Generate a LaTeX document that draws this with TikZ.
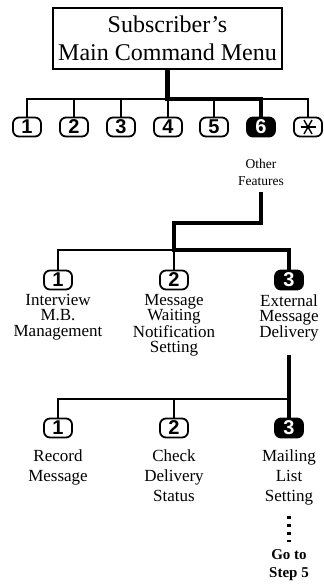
\documentclass[tikz,border=0pt]{standalone}
\usepackage{fontspec}
\setmainfont{Liberation Serif}
\newfontfamily\keyfont{Liberation Sans}
\begin{document}
\begin{tikzpicture}[x=1pt,y=-1pt,
  keybox/.style={draw,line width=1.8pt,rounded corners=6pt,minimum width=28pt,minimum height=19pt,inner sep=0pt,font=\keyfont\bfseries\fontsize{20}{20}\selectfont},
  keyon/.style={keybox,fill=black,text=white},
  lbl/.style={anchor=north,align=center,inner sep=0pt,font=\fontsize{17}{15.5}\selectfont},
  lblb/.style={anchor=north,align=center,inner sep=0pt,font=\fontsize{17}{20}\selectfont},
  thinln/.style={line width=1.4pt},
  thickln/.style={line width=4.2pt},
]
\useasboundingbox (0,0) rectangle (324,587);
% main menu
\node[draw,line width=2pt,minimum width=229pt,minimum height=61pt,align=center,inner sep=0pt,
  font=\fontsize{24}{28}\selectfont] (menu) at (167.5,38.5) {Subscriber's\\Main Command Menu};
% first row of keys
\node[keybox] (k1) at (27,127) {1};
\node[keybox] (k2) at (74,127) {2};
\node[keybox] (k3) at (121,127) {3};
\node[keybox] (k4) at (168,127) {4};
\node[keybox] (k5) at (214,127) {5};
\node[keyon]  (k6) at (261,127) {6};
\node[keybox] (ks) at (308,127) {};
\draw[line width=1.4pt] ([xshift=-7.5pt]ks.center) -- ([xshift=7.5pt]ks.center);
\draw[line width=1.4pt] ([shift={(60:8pt)}]ks.center) -- ([shift={(240:8pt)}]ks.center);
\draw[line width=1.4pt] ([shift={(120:8pt)}]ks.center) -- ([shift={(300:8pt)}]ks.center);
\coordinate (j0) at (167.5,99);
\draw[thinln] (k1.north) |- (j0) -| (ks.north);
\foreach \k in {k2,k3,k4,k5} \draw[thinln] (\k.north) -- (\k.north |- j0);
\draw[thickln] (menu.south) -- (j0) -| (k6.north);
\node[anchor=north,align=center,inner sep=0pt,font=\fontsize{13.5}{17}\selectfont] (of) at (261,159) {Other\\Features};
% second level
\node[keybox] (m1) at (58,280) {1};
\node[keybox] (m2) at (174,280) {2};
\node[keyon]  (m3) at (289,280) {3};
\coordinate (b1) at (261,223);
\coordinate (b2) at (174,250);
\draw[thinln] (m1.north) |- (b2);
\draw[thinln] (m2.north) -- (b2);
\draw[thickln] ([yshift=-6pt]of.south) -- (of.south |- b1) -| (b2) -| (m3.north);
\node[lbl] (l21) at (58,294) {Interview\\M.B.\\Management};
\node[lbl] (l22) at (174,294) {Message\\Waiting\\Notification\\Setting};
\node[lbl] (l23) at (289,294) {External\\Message\\Delivery};
% third level
\node[keybox] (n1) at (58,428) {1};
\node[keybox] (n2) at (174,428) {2};
\node[keyon]  (n3) at (289,428) {3};
\coordinate (c3) at (289,399);
\draw[thinln] (n1.north) |- (c3);
\draw[thinln] (n2.north) -- (n2.north |- c3);
\draw[thickln] ([yshift=-14pt]l23.south) -- (n3.north);
\node[lblb] (l31) at (58,449) {Record\\Message};
\node[lblb] (l32) at (174,449) {Check\\Delivery\\Status};
\node[lblb] (l33) at (289,449) {Mailing\\List\\Setting};
\node[anchor=north,align=center,inner sep=0pt,font=\bfseries\fontsize{15}{18}\selectfont] (go) at (289,549) {Go to\\Step 5};
\draw[line width=3.5pt,dash pattern=on 3.5pt off 4.5pt] ([yshift=-11pt]l33.south) -- ([yshift=7pt]go.north);
\end{tikzpicture}
\end{document}
